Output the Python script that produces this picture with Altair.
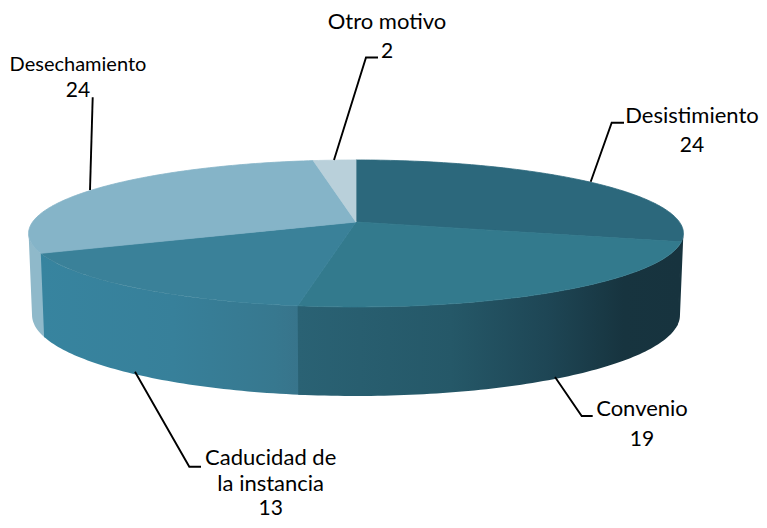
import math
import altair as alt
import pandas as pd

categories = ["Desistimiento", "Convenio", "Caducidad de la instancia", "Desechamiento", "Otro motivo"]
values = [24, 19, 13, 24, 2]

# perspective view of the pie disc (pixels of the picture)
CX, K = 356.0, 0.156
TOP = dict(cy=222.0, bx=323.4, ay=71.7)
BOT = dict(cy=302.4, bx=320.0, ay=79.0)
FONT = "Lato"
# angles at which the disc's outline turns from front to back
RIGHT_TURN = math.radians(99)
LEFT_TURN = math.radians(261)

def project(theta, disc):
    u = math.sin(theta)
    d = -math.cos(theta)
    w = 1 - K * d
    return CX + disc["bx"] * u / w, disc["cy"] + disc["ay"] * d / w

total = sum(values)
edges = [0.0]
for v in values:
    edges.append(edges[-1] + v / total * 2 * math.pi)

def arc(a0, a1, disc):
    n = max(2, int(abs(a1 - a0) / math.radians(1)))
    return [project(a0 + (a1 - a0) * i / n, disc) for i in range(n + 1)]

X = alt.X("x:Q", scale=alt.Scale(domain=[8, 759]), axis=None)
Y = alt.Y("y:Q", scale=alt.Scale(domain=[520, 8]), axis=None)

def poly(points, fill, stroke=None):
    pts = list(points) + [points[0]]
    df = pd.DataFrame({"x": [p[0] for p in pts], "y": [p[1] for p in pts], "i": range(len(pts))})
    kw = dict(stroke=stroke, strokeWidth=0.8) if stroke else dict(stroke=None, strokeWidth=0)
    return alt.Chart(df).mark_line(fill=fill, interpolate="linear", **kw).encode(x=X, y=Y, order="i:Q")

def grad(stops):
    return alt.Gradient(
        gradient="linear", x1=0, x2=1, y1=0, y2=0,
        stops=[alt.GradientStop(offset=o, color=c) for o, c in stops],
    )

def side(a0, a1, fill):
    return poly(arc(a0, a1, TOP) + arc(a1, a0, BOT), fill)

def top(i, fill):
    return poly([(CX, TOP["cy"])] + arc(edges[i], edges[i + 1], TOP), fill, stroke=fill)

layers = [
    side(RIGHT_TURN, edges[1] + 0.02, "#17333e"),
    side(edges[3] - 0.01, LEFT_TURN, "#8fb9ca"),
    side(edges[2] - 0.02, edges[3], grad([(0, "#37849f"), (0.5, "#37809a"), (0.88, "#37788f"), (1, "#38738a")])),
    side(edges[1], edges[2], grad([(0, "#2a6274"), (0.4, "#255868"), (0.65, "#1e4655"), (0.85, "#17343f"), (1, "#17333e")])),
    top(0, "#2c687c"),
    top(1, "#337a8d"),
    top(2, "#3a8199"),
    top(3, "#85b4c8"),
    top(4, "#b9d0da"),
]

leaders = [
    [(590.7, 181.7), (611.7, 122.7), (624, 122.7)],
    [(555, 377), (581.7, 416), (592.7, 416)],
    [(135, 371.7), (189.3, 466.7), (201, 466.7)],
    [(90, 190), (92.7, 97.3)],
    [(334, 160), (366, 57.5), (378, 57.5)],
]
for pts in leaders:
    df = pd.DataFrame({"x": [p[0] for p in pts], "y": [p[1] for p in pts], "i": range(len(pts))})
    layers.append(alt.Chart(df).mark_line(color="#000000", strokeWidth=1.9).encode(x=X, y=Y, order="i:Q"))

labels = pd.DataFrame(
    [
        ("Desistimiento", 692, 123, 22),
        (str(values[0]), 692, 152, 21),
        ("Convenio", 642, 416, 22),
        (str(values[1]), 642, 446, 21),
        ("Caducidad de", 270.7, 465, 22),
        ("la instancia", 270.7, 491, 22),
        (str(values[2]), 270.7, 515, 21),
        ("Desechamiento", 78, 71, 20),
        (str(values[3]), 78, 97, 21),
        ("Otro motivo", 387, 29, 22),
        (str(values[4]), 387, 58, 21),
    ],
    columns=["text", "x", "y", "size"],
)
for s, group in labels.groupby("size"):
    layers.append(
        alt.Chart(group).mark_text(font=FONT, fontSize=int(s), color="#000000", align="center", baseline="alphabetic").encode(
            x=X, y=Y, text="text:N"
        )
    )

chart = (
    alt.layer(*layers)
    .properties(width=751, height=512, padding=0, autosize=alt.AutoSizeParams(type="none"))
    .configure_view(stroke=None)
)
chart.save("out.html", embed_options={"renderer": "svg", "actions": False})
